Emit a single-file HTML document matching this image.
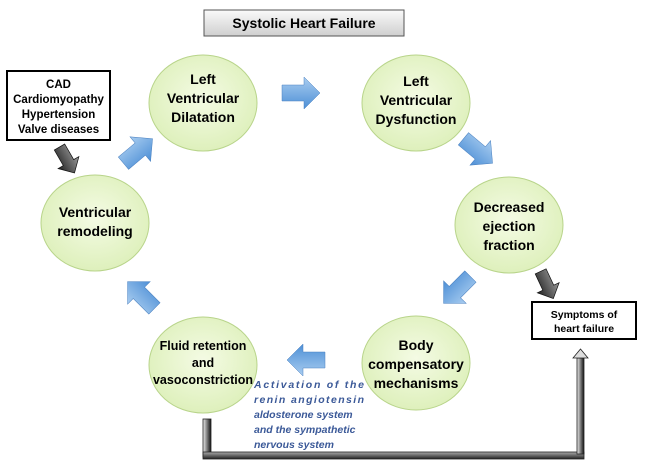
<!DOCTYPE html>
<html><head><meta charset="utf-8"><style>
body{margin:0;background:#fff;}
svg{display:block;font-family:"Liberation Sans",sans-serif;}
.t{font-weight:bold;font-size:14px;text-anchor:middle;fill:#000;}
.s{font-weight:bold;font-size:11.5px;text-anchor:middle;fill:#000;}
.i{font-weight:bold;font-style:italic;font-size:10.5px;fill:#3b5998;}
</style></head><body>
<svg width="647" height="464" viewBox="0 0 647 464" xmlns="http://www.w3.org/2000/svg">
<defs>
<radialGradient id="g" cx="50%" cy="45%" r="60%">
<stop offset="0" stop-color="#f4fbe4"/><stop offset="1" stop-color="#dcefb8"/></radialGradient>
<linearGradient id="b" x1="0" y1="0" x2="0" y2="1">
<stop offset="0" stop-color="#a9cdf0"/><stop offset="1" stop-color="#4d8fd6"/></linearGradient>
<linearGradient id="d" x1="0" y1="0" x2="0" y2="1">
<stop offset="0" stop-color="#999"/><stop offset="1" stop-color="#222"/></linearGradient>
<linearGradient id="tb" x1="0" y1="0" x2="0" y2="1">
<stop offset="0" stop-color="#fafafa"/><stop offset="1" stop-color="#cfcfcf"/></linearGradient>
<linearGradient id="hb" x1="0" y1="0" x2="0" y2="1">
<stop offset="0" stop-color="#aaa"/><stop offset="1" stop-color="#222"/></linearGradient>
<linearGradient id="vb" x1="0" y1="0" x2="1" y2="0">
<stop offset="0" stop-color="#eee"/><stop offset="1" stop-color="#111"/></linearGradient>
<polygon id="ar" points="-19,-8 3,-8 3,-16 19,0 3,16 3,8 -19,8"/>
<polygon id="dr" points="-15,-6 3,-6 3,-12 15,0 3,12 3,6 -15,6"/>
</defs>
<rect x="204" y="10" width="200" height="26" fill="url(#tb)" stroke="#555" stroke-width="1"/>
<text x="304" y="28" class="t" style="font-size:14px">Systolic Heart Failure</text>

<rect x="7" y="71" width="103" height="69" fill="#fff" stroke="#000" stroke-width="2"/>
<text class="s" x="58.5" y="88">CAD</text>
<text class="s" x="58.5" y="103">Cardiomyopathy</text>
<text class="s" x="58.5" y="118">Hypertension</text>
<text class="s" x="58.5" y="133">Valve diseases</text>

<rect x="532" y="302" width="104" height="37" fill="#fff" stroke="#000" stroke-width="2"/>
<text class="s" x="584" y="318" style="font-size:10.5px">Symptoms of</text>
<text class="s" x="584" y="332" style="font-size:10.5px">heart failure</text>

<g fill="url(#g)" stroke="#b8d48a" stroke-width="1">
<ellipse cx="203" cy="103" rx="54" ry="48"/>
<ellipse cx="416" cy="103" rx="54" ry="48"/>
<ellipse cx="509" cy="225" rx="54" ry="48"/>
<ellipse cx="416" cy="363" rx="54" ry="47"/>
<ellipse cx="203" cy="365" rx="54" ry="48"/>
<ellipse cx="95" cy="223" rx="54" ry="48"/>
</g>
<text class="t" x="203" y="84">Left</text>
<text class="t" x="203" y="103">Ventricular</text>
<text class="t" x="203" y="122">Dilatation</text>
<text class="t" x="416" y="86">Left</text>
<text class="t" x="416" y="105">Ventricular</text>
<text class="t" x="416" y="124">Dysfunction</text>
<text class="t" x="509" y="212">Decreased</text>
<text class="t" x="509" y="231">ejection</text>
<text class="t" x="509" y="250">fraction</text>
<text class="t" x="416" y="350">Body</text>
<text class="t" x="416" y="369">compensatory</text>
<text class="t" x="416" y="388">mechanisms</text>
<text class="t" x="203" y="350" style="font-size:12.5px">Fluid retention</text>
<text class="t" x="203" y="367" style="font-size:12.5px">and</text>
<text class="t" x="203" y="384" style="font-size:12.5px">vasoconstriction</text>
<text class="t" x="95" y="217">Ventricular</text>
<text class="t" x="95" y="236">remodeling</text>

<g fill="url(#b)" stroke="#4a80c0" stroke-width="0.5">
<use href="#ar" transform="translate(301,93)"/>
<use href="#ar" transform="translate(138,151) rotate(-40)"/>
<use href="#ar" transform="translate(478,151) rotate(40)"/>
<use href="#ar" transform="translate(457,290) rotate(135)"/>
<use href="#ar" transform="translate(306,360) rotate(180)"/>
<use href="#ar" transform="translate(141,295) rotate(-135)"/>
</g>
<g fill="url(#d)" stroke="#111" stroke-width="0.7">
<use href="#dr" transform="translate(67,160) rotate(60)"/>
<use href="#dr" transform="translate(547,285) rotate(65)"/>
</g>

<text class="i" x="254" y="388" textLength="110" lengthAdjust="spacing">Activation of the</text>
<text class="i" x="254" y="403" textLength="110" lengthAdjust="spacing">renin angiotensin</text>
<text class="i" x="254" y="418">aldosterone system</text>
<text class="i" x="254" y="433">and the sympathetic</text>
<text class="i" x="254" y="448">nervous system</text>

<rect x="203" y="419" width="8" height="38" fill="url(#vb)" stroke="#222" stroke-width="0.8"/>
<rect x="203" y="452" width="381" height="7" fill="url(#hb)" stroke="#222" stroke-width="0.8"/>
<rect x="577" y="358" width="7" height="96" fill="url(#vb)" stroke="#222" stroke-width="0.8"/>
<polygon points="573,358 580.5,349 588,358" fill="#ddd" stroke="#222" stroke-width="0.8"/>
</svg>
</body></html>
